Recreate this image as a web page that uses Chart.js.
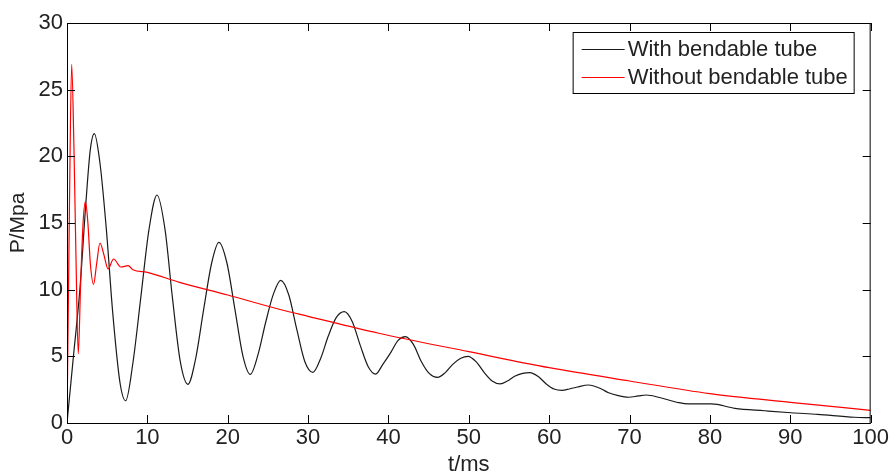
<!DOCTYPE html>
<html>
<head>
<meta charset="utf-8">
<script src="https://cdn.jsdelivr.net/npm/chart.js@4/dist/chart.umd.min.js"></script>
<style>
  html, body { margin: 0; padding: 0; background: #fff; }
  #wrap { width: 891px; height: 471px; }
</style>
</head>
<body>
<div id="wrap"><canvas id="grafico" width="891" height="471"></canvas></div>
<script>
// pressure traces, t in ms, P in MPa
const withTubeT = [0, 0.8, 1.6, 2.35, 2.9, 3.4, 4.1, 4.9, 5.7, 6.6, 7.3, 8.2, 9.2, 10.2, 11.2, 12.2, 13.1, 14.1, 15.05,
  16.0, 17.0, 18.0, 18.9, 19.9, 20.9, 21.9, 22.8, 23.8, 24.7, 25.7, 26.6, 27.6, 28.6, 29.6, 30.6, 31.6, 32.5, 33.5,
  34.5, 35.5, 36.5, 37.5, 38.4, 39.3, 40.3, 41.2, 42.1, 43.1, 44.1, 45.1, 46.1, 47.1, 48.0, 49.0, 49.9, 50.9, 51.9,
  52.9, 53.9, 54.8, 55.7, 56.7, 57.6, 58.6, 59.6, 60.6, 61.6, 62.5, 63.5, 64.9, 66.5, 67.4, 68.6, 69.9, 71.1, 72.1,
  73.6, 76.1, 77.3, 80.2, 83.1, 86.8, 90.1, 93.4, 98, 100];
const withTubeP = [0, 5, 10, 16.5, 20.5, 21.7, 19.5, 14.5, 8.2, 3, 1.67, 4.5, 9.5, 14.5, 17.1, 14.5, 9.5, 4.6, 2.9,
  4.8, 8.5, 12, 13.55, 12, 8.5, 5, 3.65, 5.2, 7.5, 9.7, 10.7, 9.6, 7, 4.6, 3.8, 4.9, 6.5, 7.9,
  8.35, 7.6, 5.8, 4.2, 3.67, 4.4, 5.3, 6.2, 6.48, 5.9, 4.6, 3.7, 3.42, 3.8, 4.4, 4.85, 5.0, 4.6, 3.8,
  3.15, 2.93, 3.15, 3.5, 3.72, 3.78, 3.5, 2.95, 2.55, 2.45, 2.55, 2.7, 2.85, 2.55, 2.27, 2.05, 1.93, 2.03, 2.1,
  1.93, 1.53, 1.43, 1.43, 1.1, 0.92, 0.77, 0.65, 0.43, 0.4];

const withoutTubeT = [0, 0.3, 0.58, 0.87, 1.1, 1.4, 1.7, 2.0, 2.3, 2.6, 2.9, 3.3, 3.7, 4.1, 4.6, 5.1, 5.8, 6.7, 7.6,
  8.2, 10, 14, 20, 26.4, 30, 38.8, 50, 60, 70, 80, 90, 100];
const withoutTubeP = [0, 16, 26.9, 20.5, 13, 5.2, 10.5, 15, 16.6, 15, 12, 10.4, 12, 13.5, 12.6, 11.55, 12.3, 11.7, 11.8,
  11.5, 11.3, 10.55, 9.6, 8.53, 8.0, 6.73, 5.35, 4.15, 3.15, 2.2, 1.55, 0.95];

const seriesNames = ["With bendable tube", "Without bendable tube"];
const seriesColors = ["#1a1a1a", "#ff0000"];

const xTicks = [0, 10, 20, 30, 40, 50, 60, 70, 80, 90, 100];
const yTicks = [0, 5, 10, 15, 20, 25, 30];

const textColor = "#222";
const fontFamily = "'Liberation Sans', Arial, sans-serif";

function toPoints(ts, ps) {
  return ts.map((t, i) => ({ x: t, y: ps[i] }));
}

// matlab style frame: box round the plot, ticks pointing inward, boxed legend
const frame = {
  id: "frame",
  afterDatasetsDraw(chart) {
    const { ctx, chartArea: a, scales } = chart;
    const x = scales.x, y = scales.y;
    const len = 8;
    ctx.save();
    ctx.strokeStyle = "#000";
    ctx.lineWidth = 1;
    ctx.strokeRect(a.left + 0.5, a.top + 0.5, a.right - a.left - 1, a.bottom - a.top);
    ctx.beginPath();
    x.ticks.forEach(t => {
      const px = Math.round(x.getPixelForValue(t.value)) + 0.5;
      ctx.moveTo(px, a.bottom); ctx.lineTo(px, a.bottom - len);
      ctx.moveTo(px, a.top); ctx.lineTo(px, a.top + len);
    });
    y.ticks.forEach(t => {
      const py = Math.round(y.getPixelForValue(t.value)) + 0.5;
      ctx.moveTo(a.left, py); ctx.lineTo(a.left + len, py);
      ctx.moveTo(a.right, py); ctx.lineTo(a.right - len, py);
    });
    ctx.stroke();

    // legend
    const lw = 281, lh = 61;
    const lx = a.right - 17 - lw, ly = a.top + 9;
    ctx.fillStyle = "#fff";
    ctx.fillRect(lx, ly, lw, lh);
    ctx.strokeStyle = "#000";
    ctx.strokeRect(lx + 0.5, ly + 0.5, lw, lh);
    ctx.font = "22px " + fontFamily;
    ctx.textBaseline = "middle";
    ctx.textAlign = "left";
    seriesNames.forEach((name, i) => {
      const rowY = ly + 17 + i * 28;
      ctx.strokeStyle = seriesColors[i];
      ctx.beginPath();
      ctx.moveTo(lx + 9, rowY + 0.5);
      ctx.lineTo(lx + 52, rowY + 0.5);
      ctx.stroke();
      ctx.fillStyle = textColor;
      ctx.fillText(name, lx + 55, rowY + 1);
    });
    ctx.restore();
  }
};

const ctx = document.getElementById("grafico");
new Chart(ctx, {
  type: "line",
  data: {
    datasets: [
      {
        label: seriesNames[0],
        data: toPoints(withTubeT, withTubeP),
        borderColor: seriesColors[0],
        borderWidth: 1.2,
        pointRadius: 0,
        cubicInterpolationMode: "monotone",
        order: 2
      },
      {
        label: seriesNames[1],
        data: toPoints(withoutTubeT, withoutTubeP),
        borderColor: seriesColors[1],
        borderWidth: 1.2,
        pointRadius: 0,
        cubicInterpolationMode: "monotone",
        order: 1
      }
    ]
  },
  options: {
    responsive: false,
    animation: false,
    events: [],
    layout: { padding: { top: 23, right: 18, left: 0, bottom: 0 } },
    plugins: {
      legend: { display: false },
      tooltip: { enabled: false }
    },
    scales: {
      x: {
        type: "linear",
        min: xTicks[0],
        max: xTicks[xTicks.length - 1],
        afterBuildTicks: s => { s.ticks = xTicks.map(v => ({ value: v })); },
        afterFit: s => { s.height = 48; },
        grid: { display: false, drawTicks: false },
        border: { display: false },
        ticks: {
          padding: 2,
          maxRotation: 0,
          color: textColor,
          font: { family: fontFamily, size: 22 }
        },
        title: {
          display: true,
          text: "t/ms",
          color: textColor,
          padding: { top: 0, bottom: -7 },
          font: { family: fontFamily, size: 22 }
        }
      },
      y: {
        type: "linear",
        min: yTicks[0],
        max: yTicks[yTicks.length - 1],
        afterBuildTicks: s => { s.ticks = yTicks.map(v => ({ value: v })); },
        afterFit: s => { s.width = 67; },
        grid: { display: false, drawTicks: false },
        border: { display: false },
        ticks: {
          padding: 4,
          color: textColor,
          font: { family: fontFamily, size: 22 }
        },
        title: {
          display: true,
          text: "P/Mpa",
          color: textColor,
          padding: { top: 6, bottom: 0 },
          font: { family: fontFamily, size: 21 }
        }
      }
    }
  },
  plugins: [frame]
});
</script>
</body>
</html>
